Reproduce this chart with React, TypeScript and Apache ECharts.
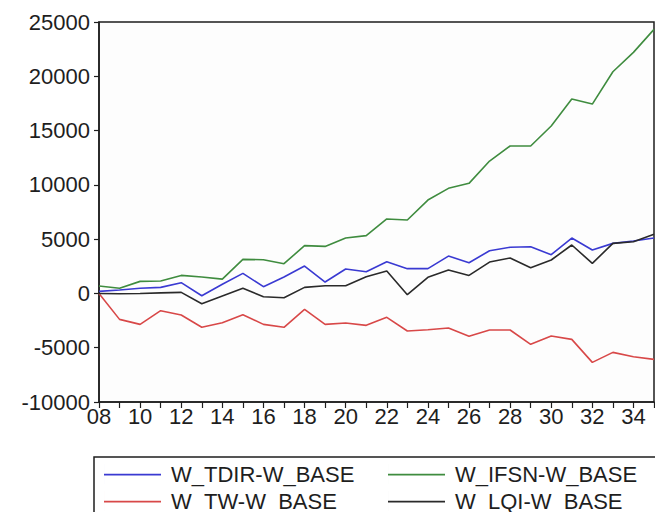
import React, { useEffect, useRef } from "react";
import * as echarts from "echarts";

const years = ["08","09","10","11","12","13","14","15","16","17","18","19","20","21","22","23","24","25","26","27","28","29","30","31","32","33","34","35"];

const tdir = [190, 310, 470, 560, 990, -210, 850, 1850, 620, 1510, 2520, 1050, 2250, 2000, 2920, 2280, 2280, 3440, 2830, 3930, 4250, 4300, 3570, 5100, 4000, 4610, 4830, 5100];
const ifsn = [680, 470, 1110, 1140, 1660, 1510, 1320, 3140, 3100, 2740, 4400, 4330, 5100, 5320, 6860, 6760, 8600, 9680, 10140, 12190, 13580, 13580, 15420, 17900, 17440, 20420, 22200, 24320];
const tw = [0, -2390, -2850, -1590, -1990, -3120, -2700, -1960, -2850, -3120, -1470, -2850, -2730, -2940, -2200, -3460, -3340, -3190, -3940, -3370, -3370, -4690, -3920, -4230, -6350, -5430, -5830, -6070];
const lqi = [0, -30, 0, 50, 100, -950, -240, 470, -300, -400, 560, 710, 710, 1540, 2060, -120, 1480, 2150, 1660, 2890, 3260, 2370, 3080, 4460, 2770, 4610, 4760, 5440];

const yTicks = { min: -10000, max: 25000, interval: 5000 };

const FONT = "Liberation Sans, Arial, sans-serif";
const INK = "#1e1e1e";
const LINE_ICON = "path://M0,9.8 L57,9.8 L57,11.4 L0,11.4 Z M0,0 L0.01,0 L0.01,20 L0,20 Z";

export default function App() {
  const ref = useRef<HTMLDivElement>(null);
  useEffect(() => {
    document.body.style.margin = "0";
    if (!ref.current) return;
    const chart = echarts.init(ref.current, null, { renderer: "svg" });
    const mk = (name: string, data: number[], color: string) => ({
      name,
      type: "line",
      data,
      symbol: "none",
      lineStyle: { color, width: 1.6 },
      itemStyle: { color },
    });
    const legendText = { fontFamily: FONT, fontSize: 22, color: INK, lineHeight: 20, padding: [0, 0, 0, 5] };
    const legendBase = {
      orient: "vertical",
      top: 463,
      height: 90,
      itemWidth: 57,
      itemHeight: 20,
      itemGap: 5,
      padding: 0,
      icon: LINE_ICON,
      textStyle: legendText,
    };
    chart.setOption({
      animation: false,
      backgroundColor: "#ffffff",
      textStyle: { fontFamily: FONT },
      grid: {
        left: 99, top: 22, right: 1, bottom: 110,
        show: true, borderColor: INK, borderWidth: 1.5, backgroundColor: "#fdfdfd",
      },
      xAxis: {
        type: "category",
        data: years,
        boundaryGap: false,
        axisLine: { onZero: false, lineStyle: { color: INK, width: 1.5 } },
        axisTick: { show: true, inside: false, length: 6, interval: 0, lineStyle: { color: INK, width: 1.2 } },
        axisLabel: {
          interval: (i: number) => i % 2 === 0 && i < years.length - 1,
          margin: 3, fontSize: 22, color: INK, fontFamily: FONT,
        },
        splitLine: { show: false },
      },
      yAxis: {
        type: "value",
        min: yTicks.min,
        max: yTicks.max,
        interval: yTicks.interval,
        axisLine: { show: true, lineStyle: { color: INK, width: 1.5 } },
        axisTick: { show: true, inside: false, length: 5, lineStyle: { color: INK, width: 1.2 } },
        axisLabel: { margin: 9, fontSize: 22, color: INK, fontFamily: FONT, formatter: (v: number) => String(v) },
        splitLine: { show: false },
      },
      legend: [
        { ...legendBase, data: ["W_TDIR-W_BASE", "W_TW-W_BASE"], left: 104 },
        { ...legendBase, data: ["W_IFSN-W_BASE", "W_LQI-W_BASE"], left: 388 },
      ],
      graphic: [
        {
          type: "rect",
          shape: { x: 94, y: 457, width: 620, height: 100 },
          style: { fill: "none", stroke: INK, lineWidth: 1.5 },
          silent: true,
          z: 10,
        },
      ],
      series: [
        mk("W_TDIR-W_BASE", tdir, "#3a3ad2"),
        mk("W_IFSN-W_BASE", ifsn, "#3f8c3f"),
        mk("W_TW-W_BASE", tw, "#d84848"),
        mk("W_LQI-W_BASE", lqi, "#2a2a2a"),
      ],
    });
    return () => chart.dispose();
  }, []);
  return <div ref={ref} style={{ width: 655, height: 512 }} />;
}
